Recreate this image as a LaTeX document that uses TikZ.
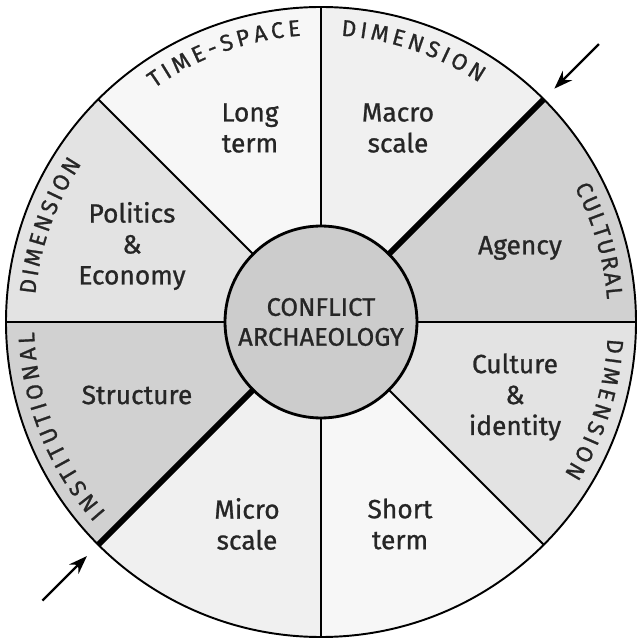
\documentclass[tikz,border=0pt]{standalone}
\usepackage{fontspec}
\setmainfont{Fira Sans}[FakeBold=0.9]
\usetikzlibrary{arrows.meta, positioning, decorations.text}

\definecolor{shadeA}{gray}{0.97}
\definecolor{shadeB}{gray}{0.94}
\definecolor{shadeC}{gray}{0.89}
\definecolor{shadeD}{gray}{0.82}
\definecolor{coreshade}{gray}{0.80}
\definecolor{ink}{gray}{0.15}

\newcommand{\ringfont}{\fontsize{13}{15}\selectfont\color{ink}}
\tikzset{
    divider/.style = {draw=black, line width=1.1pt},
    boundary/.style = {draw=black, line width=3.4pt},
    sectortext/.style = {align=center, text=ink, font=\fontsize{15}{17.6}\selectfont},
    coretext/.style = {circle, draw=black, line width=1.6pt, fill=coreshade,
        minimum size=3.84cm, align=center, text=ink, font=\fontsize{14.5}{17}\selectfont},
    ringtext/.style = {decorate, decoration={text along path, text align=fit to path,
        text={|\ringfont|#1}}},
}

\begin{document}
\begin{tikzpicture}[x=0.02cm, y=0.02cm, ->, >={Stealth[length=10.5pt, width=7.5pt]}]
    \useasboundingbox (-321,-320) rectangle (316,322);

    % the eight sectors of the wheel
    \foreach \a/\shade in {0/shadeD, 45/shadeB, 90/shadeA, 135/shadeC,
                           180/shadeD, 225/shadeB, 270/shadeA, 315/shadeC}
        \fill[\shade] (0,0) -- (\a:315) arc[start angle=\a, end angle=\a+45, radius=315] -- cycle;

    \foreach \a in {0, 90, 135, 180, 270, 315}
        \draw[-, divider] (\a:96) -- (\a:315);
    \draw[-, boundary] (45:96) -- (45:315);
    \draw[-, boundary] (225:96) -- (225:315);
    \draw[-, line width=1.1pt] (0,0) circle[radius=315];

    \node (core) [coretext] at (0,0) {CONFLICT\\ARCHAEOLOGY};

    \node (longterm) [sectortext] at (-71,194) {Long\\term};
    \node (macro) [sectortext] at (77,194) {Macro\\scale};
    \node (agency) [sectortext] at (199,74) {Agency};
    \node (culture) [sectortext] at (194,-75) {Culture\\\&\\identity};
    \node (shortterm) [sectortext] at (79,-202) {Short\\term};
    \node (micro) [sectortext] at (-74,-202) {Micro\\scale};
    \node (structure) [sectortext] at (-184,-73) {Structure};
    \node (politics) [sectortext] at (-189,76) {Politics\\\&\\Economy};

    % dimension names round the rim, read clockwise
    \path[ringtext={TIME-SPACE}] (125.5:287) arc[start angle=125.5, end angle=94, radius=287];
    \path[ringtext={DIMENSION}] (86:287) arc[start angle=86, end angle=56.5, radius=287];
    \path[ringtext={CULTURAL}] (28:287) arc[start angle=28, end angle=4.5, radius=287];
    \path[ringtext={DIMENSION}] (-3.3:287) arc[start angle=-3.3, end angle=-32, radius=287];
    \path[ringtext={DIMENSION}] (174.5:287) arc[start angle=174.5, end angle=146.5, radius=287];
    \path[ringtext={INSTITUTIONAL}] (221.5:287) arc[start angle=221.5, end angle=182, radius=287];

    % arrows pointing at the thick boundary
    \coordinate (tailNE) at (45:393);
    \coordinate (tipNE) at (45:330);
    \coordinate (tailSW) at (225:394);
    \coordinate (tipSW) at (225:331);
    \draw[line width=1.3pt] (tailNE) -- (tipNE);
    \draw[line width=1.3pt] (tailSW) -- (tipSW);
\end{tikzpicture}
\end{document}
